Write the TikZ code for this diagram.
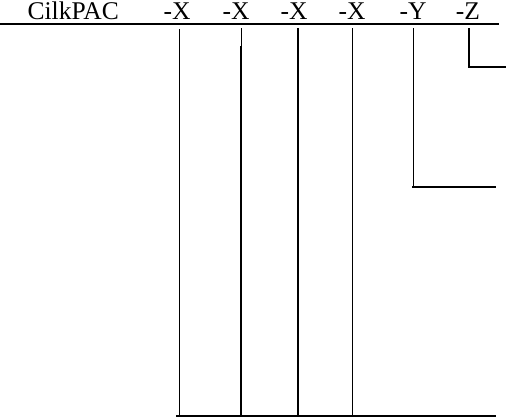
\documentclass[tikz,border=0pt]{standalone}
\usepackage{fontspec}
\setmainfont{Liberation Serif}
\begin{document}
\begin{tikzpicture}[x=1pt,y=-1pt,
  hdr/.style={anchor=base,inner sep=0pt,font=\fontsize{25.5}{30}\selectfont},
  thinln/.style={line width=1pt},
  thickln/.style={line width=2pt}]
\useasboundingbox (0,0) rectangle (506,418);
% headers
\node[hdr] (h0) at (73.2,19) {CilkPAC};
\node[hdr] (h1) at (177,19) {-X};
\node[hdr] (h2) at (236,19) {-X};
\node[hdr] (h3) at (294,19) {-X};
\node[hdr] (h4) at (352,19) {-X};
\node[hdr] (h5) at (413,19) {-Y};
\node[hdr] (h6) at (468,19) {-Z};
% coordinates
\coordinate (rl) at (0,23.7);
\coordinate (rr) at (499,23.7);
\coordinate (a1) at (179.5,29);   \coordinate (b1) at (179.5,415.7);
\coordinate (a2) at (241,28);     \coordinate (m2) at (241,46); \coordinate (b2) at (241,415.7);
\coordinate (a3) at (297.7,28);   \coordinate (b3) at (297.7,415.7);
\coordinate (a4) at (352.3,28);   \coordinate (b4) at (352.3,415.7);
\coordinate (a5) at (413.3,28);   \coordinate (c5) at (413.3,186.7); \coordinate (e5) at (495.7,186.7);
\coordinate (a6) at (469,28);     \coordinate (c6) at (469,66.7);   \coordinate (e6) at (506,66.7);
\coordinate (bl) at (176,415.7);  \coordinate (br) at (496,415.7);
% lines
\draw[thickln] (rl) -- (rr);
\draw[thinln] (a1) -- (b1);
\draw[thinln] (a2) -- (m2);
\draw[thickln] (m2) -- (b2);
\draw[thickln] (a3) -- (b3);
\draw[thinln] (a4) -- (b4);
\draw[thinln] (a5) -- (c5);
\draw[thickln] ([xshift=-1.3pt]c5) -- (e5);
\draw[thickln] (a6) -- (c6) -- (e6);
\draw[thickln] (bl) -- (br);
\end{tikzpicture}
\end{document}
